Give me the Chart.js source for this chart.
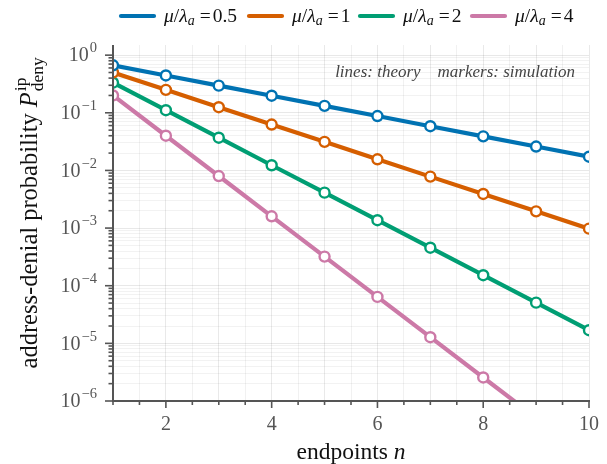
<!DOCTYPE html>
<html>
<head>
<meta charset="utf-8">
<script src="https://cdn.jsdelivr.net/npm/chart.js@4/dist/chart.umd.min.js"></script>
<style>
  html, body { margin: 0; padding: 0; background: #ffffff; }
  canvas { display: block; }
</style>
</head>
<body>
<canvas id="chart" width="607" height="464"></canvas>
<script>
// Number of endpoints n
const endpoints = [1, 2, 3, 4, 5, 6, 7, 8, 9, 10];

// Service-to-arrival ratios mu/lambda_a, one per series
const ratioLabels = ['0.5', '1', '2', '4'];

// Theory curves: address-denial probability per n
const theoryR05 = [0.667, 0.444, 0.296, 0.198, 0.132, 0.0878, 0.0585, 0.0390, 0.0260, 0.0173];
const theoryR1  = [0.500, 0.250, 0.125, 0.0625, 0.0313, 0.0156, 0.00781, 0.00391, 0.00195, 0.000977];
const theoryR2  = [0.333, 0.111, 0.0370, 0.0123, 0.00412, 0.00137, 0.000457, 0.000152, 0.0000508, 0.0000169];
const theoryR4  = [0.200, 0.0400, 0.00800, 0.00160, 0.000320, 0.0000640, 0.0000128, 0.00000256, 0.000000512, 0.000000102];

// Simulation estimates (markers)
const simR05 = [0.667, 0.444, 0.296, 0.198, 0.132, 0.0878, 0.0585, 0.0390, 0.0260, 0.0173];
const simR1  = [0.500, 0.250, 0.125, 0.0625, 0.0313, 0.0156, 0.00781, 0.00391, 0.00195, 0.000977];
const simR2  = [0.333, 0.111, 0.0370, 0.0123, 0.00412, 0.00137, 0.000457, 0.000152, 0.0000508, 0.0000169];
const simR4  = [0.200, 0.0400, 0.00800, 0.00160, 0.000320, 0.0000640, 0.0000128, 0.00000256];

// Axis tick labels
const xTickLabels = [2, 4, 6, 8, 10];
const yDecadeExponents = [0, -1, -2, -3, -4, -5, -6];

const colors = ['#0072B2', '#D55E00', '#009E73', '#CC79A7'];
const theorySeries = [theoryR05, theoryR1, theoryR2, theoryR4];
const simSeries = [simR05, simR1, simR2, simR4];

const SERIF = '"Liberation Serif", "Times New Roman", serif';
const AXIS_GREY = '#555555';

function toPoints(values) {
  return values.map((v, i) => ({ x: endpoints[i], y: v }));
}

const datasets = [];
theorySeries.forEach((vals, i) => {
  datasets.push({
    label: 'theory ' + ratioLabels[i],
    data: toPoints(vals),
    borderColor: colors[i],
    backgroundColor: colors[i],
    borderWidth: 4.2,
    pointRadius: 0,
    pointHoverRadius: 0,
    tension: 0,
    borderCapStyle: 'round',
    borderJoinStyle: 'round',
    clip: 0,
    order: 2 + i
  });
});
simSeries.forEach((vals, i) => {
  datasets.push({
    label: 'simulation ' + ratioLabels[i],
    data: toPoints(vals),
    showLine: false,
    borderColor: colors[i],
    backgroundColor: '#ffffff',
    pointBackgroundColor: '#ffffff',
    pointBorderColor: colors[i],
    pointBorderWidth: 2.4,
    pointRadius: 5,
    pointHoverRadius: 5,
    clip: 0,
    order: 0
  });
});

// Draws a run of text pieces with their own font and vertical offset
function drawRich(ctx, x, y, parts, align) {
  let total = 0;
  const widths = parts.map(p => {
    ctx.font = p.font;
    const w = ctx.measureText(p.text).width + (p.gap || 0) + (p.pre || 0);
    if (!p.stackWithPrev) total += w;
    return w;
  });
  let cx = align === 'right' ? x - total : align === 'center' ? x - total / 2 : x;
  let prevX = cx;
  parts.forEach((p, i) => {
    ctx.font = p.font;
    ctx.fillStyle = p.color || ctx.fillStyle;
    if (p.stackWithPrev) {
      ctx.fillText(p.text, prevX, y + (p.dy || 0));
      return;
    }
    prevX = cx + (p.pre || 0);
    ctx.fillText(p.text, cx + (p.pre || 0), y + (p.dy || 0));
    cx += widths[i];
  });
  return total;
}

// Keeps lines and markers inside the plotting area
const plotClip = {
  id: 'plotClip',
  beforeDatasetsDraw(chart) {
    const a = chart.chartArea;
    chart.ctx.save();
    chart.ctx.beginPath();
    chart.ctx.rect(a.left, a.top, a.right - a.left, a.bottom - a.top);
    chart.ctx.clip();
  },
  afterDatasetsDraw(chart) {
    chart.ctx.restore();
  }
};

const decorations = {
  id: 'decorations',
  afterDraw(chart) {
    const ctx = chart.ctx;
    const xs = chart.scales.x;
    const ys = chart.scales.y;
    const area = chart.chartArea;
    ctx.save();

    // Spines
    ctx.strokeStyle = AXIS_GREY;
    ctx.lineWidth = 2;
    ctx.lineCap = 'butt';
    ctx.beginPath();
    ctx.moveTo(area.left, area.top);
    ctx.lineTo(area.left, area.bottom + 1);
    ctx.moveTo(area.left - 1, area.bottom);
    ctx.lineTo(area.right + 1, area.bottom);
    ctx.stroke();

    // X ticks (every 0.5, longer at labelled values)
    ctx.lineWidth = 1.6;
    xs.ticks.forEach(t => {
      const px = xs.getPixelForValue(t.value);
      const major = xTickLabels.includes(t.value);
      ctx.beginPath();
      ctx.moveTo(px, area.bottom);
      ctx.lineTo(px, area.bottom + (major ? 7 : 4));
      ctx.stroke();
    });
    // Y ticks (minor at 2..9 of each decade)
    ys.ticks.forEach(t => {
      const py = ys.getPixelForValue(t.value);
      const e = Math.log10(t.value);
      const major = Math.abs(e - Math.round(e)) < 1e-9;
      ctx.beginPath();
      ctx.moveTo(area.left, py);
      ctx.lineTo(area.left - (major ? 8 : 4.5), py);
      ctx.stroke();
    });

    // X tick labels
    ctx.fillStyle = AXIS_GREY;
    ctx.textBaseline = 'middle';
    ctx.textAlign = 'center';
    ctx.font = '20px ' + SERIF;
    xTickLabels.forEach(v => {
      ctx.fillText(String(v), xs.getPixelForValue(v), area.bottom + 24);
    });

    // Y tick labels: 10 with a superscript exponent
    ctx.textAlign = 'left';
    yDecadeExponents.forEach(e => {
      const py = ys.getPixelForValue(Math.pow(10, e));
      const expText = e < 0 ? '\u2212' + Math.abs(e) : String(e);
      drawRich(ctx, 97, py + 1, [
        { text: '10', font: '20px ' + SERIF, color: AXIS_GREY },
        { text: expText, font: '14.5px ' + SERIF, dy: -7.5, pre: 1, color: AXIS_GREY }
      ], 'right');
    });

    // X axis title
    ctx.fillStyle = '#111111';
    drawRich(ctx, (area.left + area.right) / 2, 453, [
      { text: 'endpoints ', font: '23.5px ' + SERIF },
      { text: 'n', font: 'italic 23.5px ' + SERIF }
    ], 'center');

    // Y axis title, rotated
    ctx.save();
    ctx.translate(31, (area.top + area.bottom) / 2);
    ctx.rotate(-Math.PI / 2);
    drawRich(ctx, 0, 0, [
      { text: 'address-denial probability ', font: '24.5px ' + SERIF },
      { text: 'P', font: 'italic 24.5px ' + SERIF, gap: 1 },
      { text: 'ip', font: '17.5px ' + SERIF, dy: -10 },
      { text: 'deny', font: '17.5px ' + SERIF, dy: 7, stackWithPrev: true }
    ], 'center');
    ctx.restore();

    // Note inside the plot
    ctx.fillStyle = '#444444';
    ctx.textAlign = 'left';
    ctx.font = 'italic 17px ' + SERIF;
    const note = 'lines: theory    markers: simulation';
    const nw = ctx.measureText(note).width;
    ctx.fillText(note, 575 - nw, 73);

    // Legend across the top: handle start positions of the four entries
    const legendY = 16;
    const lineLen = 37;
    const handleX = [119, 247, 358, 470];
    ratioLabels.forEach((lab, i) => {
      const lx = handleX[i];
      ctx.strokeStyle = colors[i];
      ctx.lineWidth = 4.2;
      ctx.lineCap = 'round';
      ctx.beginPath();
      ctx.moveTo(lx + 2, legendY);
      ctx.lineTo(lx + lineLen - 2, legendY);
      ctx.stroke();
      ctx.fillStyle = '#111111';
      drawRich(ctx, lx + lineLen + 8, legendY + 1, [
        { text: '\u03bc', font: 'italic 19.5px ' + SERIF },
        { text: '/', font: '19.5px ' + SERIF },
        { text: '\u03bb', font: 'italic 19.5px ' + SERIF },
        { text: 'a', font: 'italic 14px ' + SERIF, dy: 4.5, gap: 5 },
        { text: '=', font: '19.5px ' + SERIF, gap: 2 },
        { text: lab, font: '19.5px ' + SERIF }
      ], 'left');
    });

    ctx.restore();
  }
};

function buildXTicks(scale) {
  const ticks = [];
  for (let v = 1; v <= 10.0001; v += 0.5) ticks.push({ value: v });
  scale.ticks = ticks;
}
function buildYTicks(scale) {
  const ticks = [];
  for (let e = -6; e <= 0; e++) {
    for (let m = 1; m <= 9; m++) {
      const v = m * Math.pow(10, e);
      if (v <= 1.5) ticks.push({ value: v, major: m === 1 });
    }
  }
  scale.ticks = ticks;
}

new Chart(document.getElementById('chart'), {
  type: 'line',
  data: { datasets },
  options: {
    responsive: false,
    animation: false,
    devicePixelRatio: 1,
    layout: { padding: { left: 113, right: 18, top: 45, bottom: 63 } },
    plugins: { legend: { display: false }, tooltip: { enabled: false } },
    scales: {
      x: {
        type: 'linear',
        min: 1,
        max: 10,
        afterBuildTicks: buildXTicks,
        ticks: { display: false },
        border: { display: false },
        grid: {
          drawTicks: false,
          color: ctx => (ctx.tick && Number.isInteger(ctx.tick.value) ? 'rgba(0,0,0,0.085)' : 'rgba(0,0,0,0.055)'),
          lineWidth: 1
        }
      },
      y: {
        type: 'logarithmic',
        min: 1e-6,
        max: 1.5,
        afterBuildTicks: buildYTicks,
        ticks: { display: false },
        border: { display: false },
        grid: {
          drawTicks: false,
          color: ctx => (ctx.tick && ctx.tick.major ? 'rgba(0,0,0,0.09)' : 'rgba(0,0,0,0.05)'),
          lineWidth: 1
        }
      }
    }
  },
  plugins: [plotClip, decorations]
});
</script>
</body>
</html>
